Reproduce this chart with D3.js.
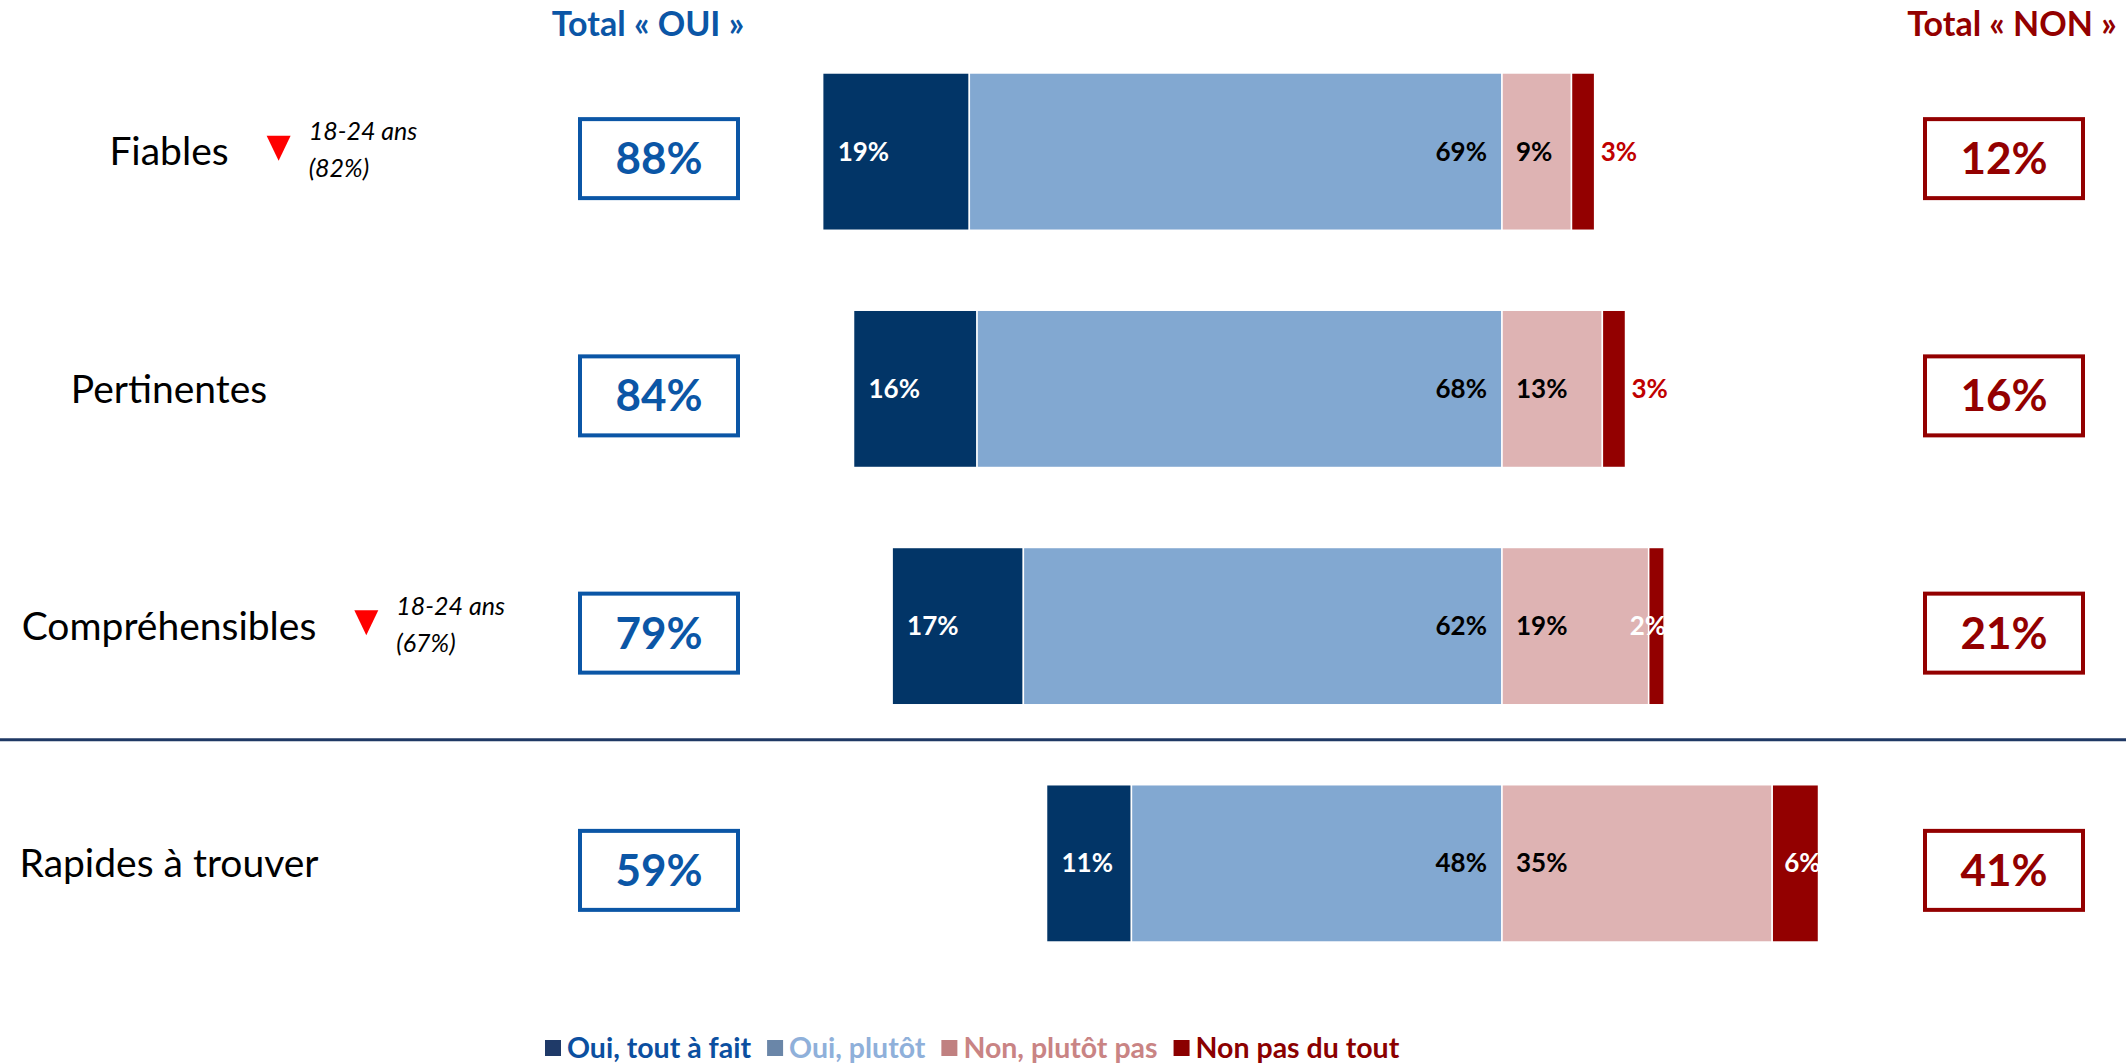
<!DOCTYPE html>
<html>
<head>
<meta charset="utf-8">
<script src="https://cdn.jsdelivr.net/npm/d3@7"></script>
<style>
body { margin: 0; background: #fff; }
text { font-family: Lato, "Open Sans", sans-serif; }
</style>
</head>
<body>
<div id="container"></div>
<script>
const categories = ["Fiables", "Pertinentes", "Compréhensibles", "Rapides à trouver"];
const ouiToutAFait = [19, 16, 17, 11];
const ouiPlutot = [69, 68, 62, 48];
const nonPlutotPas = [9, 13, 19, 35];
const nonPasDuTout = [3, 3, 2, 6];
const totalOui = [88, 84, 79, 59];
const totalNon = [12, 16, 21, 41];
const notes = [["18-24 ans", "(82%)"], null, ["18-24 ans", "(67%)"], null];
const seriesNames = ["Oui, tout à fait", "Oui, plutôt", "Non, plutôt pas", "Non pas du tout"];

const width = 2126;
const height = 1063;

const segColors = ["#023567", "#82a8d1", "#deb3b3", "#930000"];
const legendSquares = ["#1f3a68", "#6a86a8", "#c08080", "#8b0000"];
const legendText = ["#0b4fa0", "#8fb0da", "#c98484", "#8b0000"];
const blue = "#0b56a6";
const red = "#930000";
// last segment label: outside (red) on first rows, inside (white) after
const darkRedOutside = [true, true, false, false];

const svg = d3.select("#container")
    .append("svg")
    .attr("width", width)
    .attr("height", height);

const yScale = d3.scaleBand()
    .domain(categories)
    .range([33, 982])
    .paddingInner(0.337)
    .paddingOuter(0.1685);

const xScale = d3.scaleLinear()
    .domain([-100, 100])
    .range([730, 2274]);

const rows = categories.map((cat, i) => {
    const vals = [ouiToutAFait[i], ouiPlutot[i], nonPlutotPas[i], nonPasDuTout[i]];
    let start = -(vals[0] + vals[1]);
    const segs = vals.map((v, k) => {
        const s = { k: k, v: v, x0: start, x1: start + v, row: i };
        start += v;
        return s;
    });
    return { cat: cat, i: i, segs: segs };
});

// headers
svg.append("text")
    .attr("x", 648).attr("y", 24).attr("dy", "0.35em")
    .attr("text-anchor", "middle")
    .attr("font-size", 34).attr("font-weight", "bold")
    .attr("fill", blue)
    .text("Total « OUI »");

svg.append("text")
    .attr("x", 2012).attr("y", 24).attr("dy", "0.35em")
    .attr("text-anchor", "middle")
    .attr("font-size", 34).attr("font-weight", "bold")
    .attr("fill", red)
    .text("Total « NON »");

const row = svg.selectAll(".row")
    .data(rows)
    .enter()
    .append("g")
    .attr("class", "row");

row.selectAll("rect.seg")
    .data(d => d.segs)
    .enter()
    .append("rect")
    .attr("class", "seg")
    .attr("x", d => xScale(d.x0))
    .attr("y", d => yScale(categories[d.row]))
    .attr("width", d => xScale(d.x1) - xScale(d.x0))
    .attr("height", yScale.bandwidth())
    .attr("fill", d => segColors[d.k])
    .attr("stroke", "#fff")
    .attr("stroke-width", 1.5);

row.selectAll("text.seglabel")
    .data(d => d.segs)
    .enter()
    .append("text")
    .attr("class", "seglabel")
    .attr("y", d => yScale(categories[d.row]) + yScale.bandwidth() / 2)
    .attr("dy", "0.35em")
    .attr("font-size", 26)
    .attr("font-weight", "bold")
    .attr("x", d => {
        if (d.k === 0) return xScale(d.x0) + 15;
        if (d.k === 1) return xScale(d.x1) - 15;
        if (d.k === 2) return xScale(d.x0) + 14;
        return darkRedOutside[d.row] ? xScale(d.x1) + 6 : xScale(d.x1) + 2;
    })
    .attr("text-anchor", d => {
        if (d.k === 1) return "end";
        if (d.k === 3 && !darkRedOutside[d.row]) return "end";
        return "start";
    })
    .attr("fill", d => {
        if (d.k === 0) return "#fff";
        if (d.k === 3) return darkRedOutside[d.row] ? "#c00000" : "#fff";
        return "#000";
    })
    .text(d => d.v + "%");

// row labels
const labelX = 169;
row.each(function(d) {
    const g = d3.select(this);
    const cy = yScale(d.cat) + yScale.bandwidth() / 2;
    const lbl = g.append("text")
        .attr("x", labelX).attr("y", cy).attr("dy", "0.35em")
        .attr("text-anchor", "middle")
        .attr("font-size", 39)
        .attr("fill", "#000")
        .text(d.cat);

    if (notes[d.i]) {
        const w = lbl.node().getComputedTextLength();
        const tx = labelX + w / 2 + 50;
        const ty = cy - 4;
        g.append("path")
            .attr("d", `M${tx - 12},${ty - 12}L${tx + 12},${ty - 12}L${tx},${ty + 13}Z`)
            .attr("fill", "#ff0000");
        g.selectAll("text.note")
            .data(notes[d.i])
            .enter()
            .append("text")
            .attr("class", "note")
            .attr("x", tx + 30)
            .attr("y", (n, j) => cy + (j === 0 ? -20 : 17))
            .attr("dy", "0.35em")
            .attr("font-size", 25)
            .attr("font-style", "italic")
            .attr("fill", "#000")
            .text(n => n);
    }

    // total boxes
    const boxes = [
        { cx: 659, color: blue, v: totalOui[d.i] },
        { cx: 2004, color: red, v: totalNon[d.i] }
    ];
    boxes.forEach(b => {
        g.append("rect")
            .attr("x", b.cx - 79).attr("y", cy + 7 - 39.5)
            .attr("width", 158).attr("height", 79)
            .attr("fill", "#fff")
            .attr("stroke", b.color)
            .attr("stroke-width", 4);
        g.append("text")
            .attr("x", b.cx).attr("y", cy + 7).attr("dy", "0.35em")
            .attr("text-anchor", "middle")
            .attr("font-size", 44).attr("font-weight", "bold")
            .attr("fill", b.color)
            .text(b.v + "%");
    });
});

// separator before the last row
const sepY = yScale(categories[3]) - yScale.step() * yScale.paddingInner() / 2 - 5;
svg.append("line")
    .attr("x1", 0).attr("x2", width)
    .attr("y1", sepY).attr("y2", sepY)
    .attr("stroke", "#1f3864")
    .attr("stroke-width", 3);

// legend
const legend = svg.append("g").attr("transform", "translate(545, 1048)");
let lx = 0;
seriesNames.forEach((name, k) => {
    legend.append("rect")
        .attr("x", lx).attr("y", -8)
        .attr("width", 16).attr("height", 16)
        .attr("fill", legendSquares[k]);
    const t = legend.append("text")
        .attr("x", lx + 22).attr("y", 0).attr("dy", "0.35em")
        .attr("font-size", 28.5).attr("font-weight", "bold")
        .attr("fill", legendText[k])
        .text(name);
    lx += 22 + t.node().getComputedTextLength() + 16;
});
</script>
</body>
</html>
